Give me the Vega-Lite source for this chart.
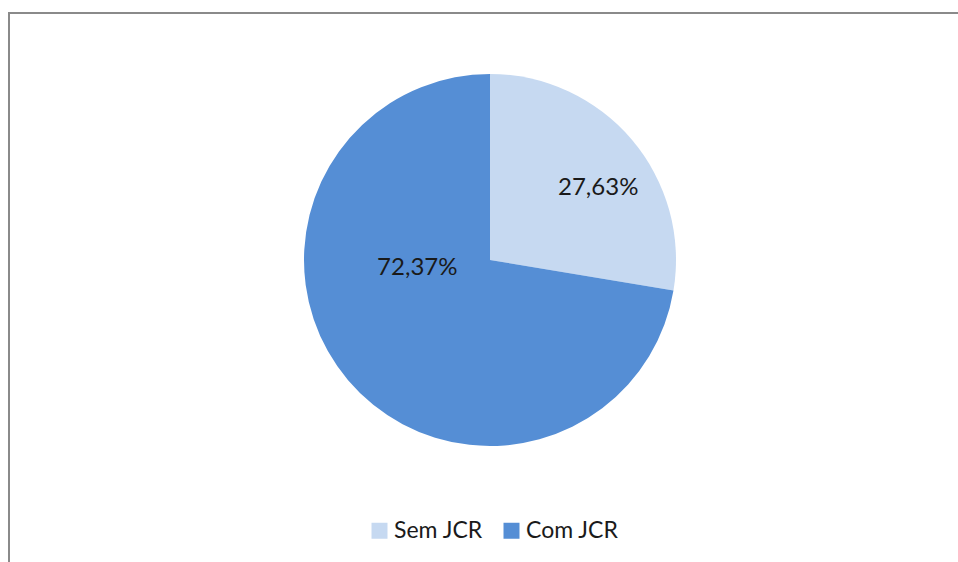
{
  "$schema": "https://vega.github.io/schema/vega-lite/v6.json",
  "width": 960,
  "height": 560,
  "autosize": {"type": "none"},
  "padding": {"left": 9, "top": 13, "right": 0, "bottom": 0},
  "background": "white",
  "config": {
    "view": {"stroke": null},
    "font": "Lato"
  },
  "data": {
    "values": [
      {"categoria": "Sem JCR", "percentual": 27.63, "rotulo": "27,63%", "ordem": 1},
      {"categoria": "Com JCR", "percentual": 72.37, "rotulo": "72,37%", "ordem": 2}
    ]
  },
  "layer": [
    {
      "transform": [{"filter": "datum.ordem === 1"}],
      "mark": {"type": "rect", "fill": null, "stroke": "#8a8a8a", "strokeWidth": 2},
      "encoding": {}
    },
    {
      "mark": {"type": "arc", "outerRadius": 186, "xOffset": 1, "yOffset": -33},
      "encoding": {
        "theta": {"field": "percentual", "type": "quantitative", "stack": true},
        "order": {"field": "ordem", "type": "quantitative"},
        "color": {
          "field": "categoria",
          "type": "nominal",
          "scale": {"domain": ["Sem JCR", "Com JCR"], "range": ["#C6D9F1", "#558ED5"]},
          "legend": {
            "title": null,
            "orient": "none",
            "legendX": 359,
            "legendY": 506,
            "direction": "horizontal",
            "symbolType": "square",
            "symbolSize": 256,
            "symbolStrokeWidth": 0,
            "labelFont": "Lato",
            "labelFontSize": 23,
            "labelColor": "#1a1a1a",
            "labelOffset": 3,
            "columnPadding": 17,
            "padding": 0
          }
        }
      }
    },
    {
      "mark": {"type": "text", "radius": 130, "xOffset": 1, "yOffset": -33, "dx": 9, "dy": 12, "fontSize": 24, "font": "Lato", "color": "#1a1a1a"},
      "encoding": {
        "theta": {"field": "percentual", "type": "quantitative", "stack": true},
        "order": {"field": "ordem", "type": "quantitative"},
        "text": {"condition": {"test": "datum.categoria === 'Sem JCR'", "field": "rotulo"}, "value": ""}
      }
    },
    {
      "mark": {"type": "text", "radius": 73, "xOffset": 1, "yOffset": -33, "dx": -17, "dy": -39, "fontSize": 24, "font": "Lato", "color": "#1a1a1a"},
      "encoding": {
        "theta": {"field": "percentual", "type": "quantitative", "stack": true},
        "order": {"field": "ordem", "type": "quantitative"},
        "text": {"condition": {"test": "datum.categoria === 'Com JCR'", "field": "rotulo"}, "value": ""}
      }
    }
  ]
}
